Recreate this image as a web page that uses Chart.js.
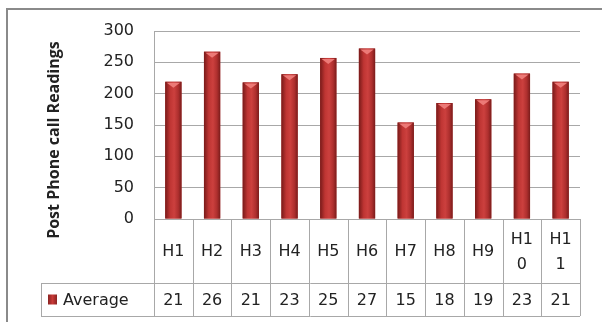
<!DOCTYPE html>
<html lang="en">
<head>
    <meta charset="UTF-8">
    <title>Post Phone call Readings</title>
    <script src="https://cdn.jsdelivr.net/npm/chart.js"></script>
    <style>
        body {
            margin: 0;
            background: #ffffff;
        }
        canvas {
            display: block;
        }
    </style>
</head>
<body>
    <canvas id="readingsChart" width="602" height="322"></canvas>
    <script>
        const categories = ['H1', 'H2', 'H3', 'H4', 'H5', 'H6', 'H7', 'H8', 'H9', 'H10', 'H11'];
        const averages = [219, 267, 218, 231, 257, 272, 154, 185, 191, 232, 219];
        // the data table in the source only shows the first two digits
        const tableValues = ['21', '26', '21', '23', '25', '27', '15', '18', '19', '23', '21'];
        const seriesName = 'Average';
        const yTitle = 'Post Phone call Readings';
        const yMin = 0, yMax = 300, yStep = 50;

        const FONT = '"DejaVu Sans", sans-serif';
        const TITLE_FONT = '"Open Sans", sans-serif';
        const gridColor = '#a8a8a8';
        const textColor = '#222222';

        // wrap a label into lines that fit the cell
        function wrapLabel(ctx, text, maxW) {
            const lines = [];
            let cur = '';
            for (const ch of text) {
                if (cur && ctx.measureText(cur + ch).width > maxW) {
                    lines.push(cur);
                    cur = ch;
                } else {
                    cur += ch;
                }
            }
            if (cur) lines.push(cur);
            return lines;
        }

        const excelLook = {
            id: 'excelLook',
            afterDatasetsDraw(chart) {
                const ctx = chart.ctx;
                const meta = chart.getDatasetMeta(0);
                ctx.save();
                meta.data.forEach(bar => {
                    const l = bar.x - bar.width / 2, r = bar.x + bar.width / 2;
                    const g = ctx.createLinearGradient(l, 0, r, 0);
                    g.addColorStop(0, '#781a19');
                    g.addColorStop(0.3, '#bf3533');
                    g.addColorStop(0.55, '#cc403e');
                    g.addColorStop(0.8, '#ae2f2e');
                    g.addColorStop(1, '#7a1c1b');
                    ctx.fillStyle = g;
                    ctx.fillRect(l, bar.y, bar.width, bar.base - bar.y);
                    ctx.fillStyle = '#ec7a77';
                    ctx.beginPath();
                    ctx.moveTo(l + 1.5, bar.y + 1);
                    ctx.lineTo(r - 1.5, bar.y + 1);
                    ctx.lineTo(bar.x, bar.y + 6);
                    ctx.closePath();
                    ctx.fill();
                });
                ctx.restore();
            },
            afterDraw(chart) {
                const ctx = chart.ctx;
                const area = chart.chartArea;
                const x = chart.scales.x;
                const n = categories.length;
                const cellW = x.width / n;
                const rowTop = area.bottom;
                const rowMid = rowTop + 64;
                const rowBot = rowMid + 33;
                const legendLeft = area.left - 113;

                ctx.save();
                // outer frame
                ctx.strokeStyle = '#8a8a8a';
                ctx.lineWidth = 2;
                ctx.strokeRect(7, 9, 620, 340);

                // data table grid
                ctx.strokeStyle = gridColor;
                ctx.lineWidth = 1;
                ctx.beginPath();
                for (let i = 0; i <= n; i++) {
                    const bx = Math.round(x.getPixelForValue(0) - cellW / 2 + i * cellW) + 0.5;
                    ctx.moveTo(bx, rowTop);
                    ctx.lineTo(bx, rowBot);
                }
                ctx.moveTo(legendLeft + 0.5, rowMid);
                ctx.lineTo(legendLeft + 0.5, rowBot);
                ctx.moveTo(legendLeft, rowMid + 0.5);
                ctx.lineTo(area.right, rowMid + 0.5);
                ctx.moveTo(legendLeft, rowBot + 0.5);
                ctx.lineTo(area.right, rowBot + 0.5);
                ctx.stroke();

                // category labels and values
                ctx.fillStyle = textColor;
                ctx.font = '16px ' + FONT;
                ctx.textAlign = 'center';
                ctx.textBaseline = 'middle';
                categories.forEach((c, i) => {
                    const cx = x.getPixelForValue(i);
                    const lines = wrapLabel(ctx, c, cellW - 12);
                    const lh = 25;
                    const y0 = (rowTop + rowMid) / 2 + 1 - (lines.length - 1) * lh / 2;
                    lines.forEach((ln, k) => ctx.fillText(ln, cx, y0 + k * lh));
                    ctx.fillText(tableValues[i], cx, (rowMid + rowBot) / 2 + 1);
                });

                // legend key
                const ky = (rowMid + rowBot) / 2;
                const kg = ctx.createLinearGradient(legendLeft + 7, 0, legendLeft + 16, 0);
                kg.addColorStop(0, '#8a2321');
                kg.addColorStop(0.5, '#c83a38');
                kg.addColorStop(1, '#8a2321');
                ctx.fillStyle = kg;
                ctx.fillRect(legendLeft + 7, ky - 5, 9, 10);
                ctx.fillStyle = textColor;
                ctx.textAlign = 'left';
                ctx.fillText(seriesName, legendLeft + 22, ky + 1);

                // axis title
                ctx.font = 'bold 16px ' + TITLE_FONT;
                ctx.textAlign = 'center';
                ctx.translate(area.left - 100, area.top + (area.bottom - area.top) * 0.58);
                ctx.rotate(-Math.PI / 2);
                ctx.fillText(yTitle, 0, 0);
                ctx.restore();
            }
        };

        new Chart(document.getElementById('readingsChart'), {
            type: 'bar',
            data: {
                labels: categories,
                datasets: [{
                    label: seriesName,
                    data: averages,
                    backgroundColor: '#b5302e',
                    borderWidth: 0,
                    barPercentage: 0.42,
                    categoryPercentage: 1
                }]
            },
            options: {
                responsive: false,
                animation: false,
                layout: {
                    padding: { left: 10, top: 31, right: 22, bottom: 103 }
                },
                plugins: {
                    legend: { display: false },
                    tooltip: { enabled: false }
                },
                scales: {
                    x: {
                        display: false
                    },
                    y: {
                        min: yMin,
                        max: yMax,
                        ticks: {
                            stepSize: yStep,
                            color: textColor,
                            padding: 20,
                            font: { family: FONT, size: 16 }
                        },
                        grid: { color: gridColor, drawTicks: false },
                        border: { color: gridColor },
                        afterFit(scale) { scale.width = 144; }
                    }
                }
            },
            plugins: [excelLook]
        });
    </script>
</body>
</html>
